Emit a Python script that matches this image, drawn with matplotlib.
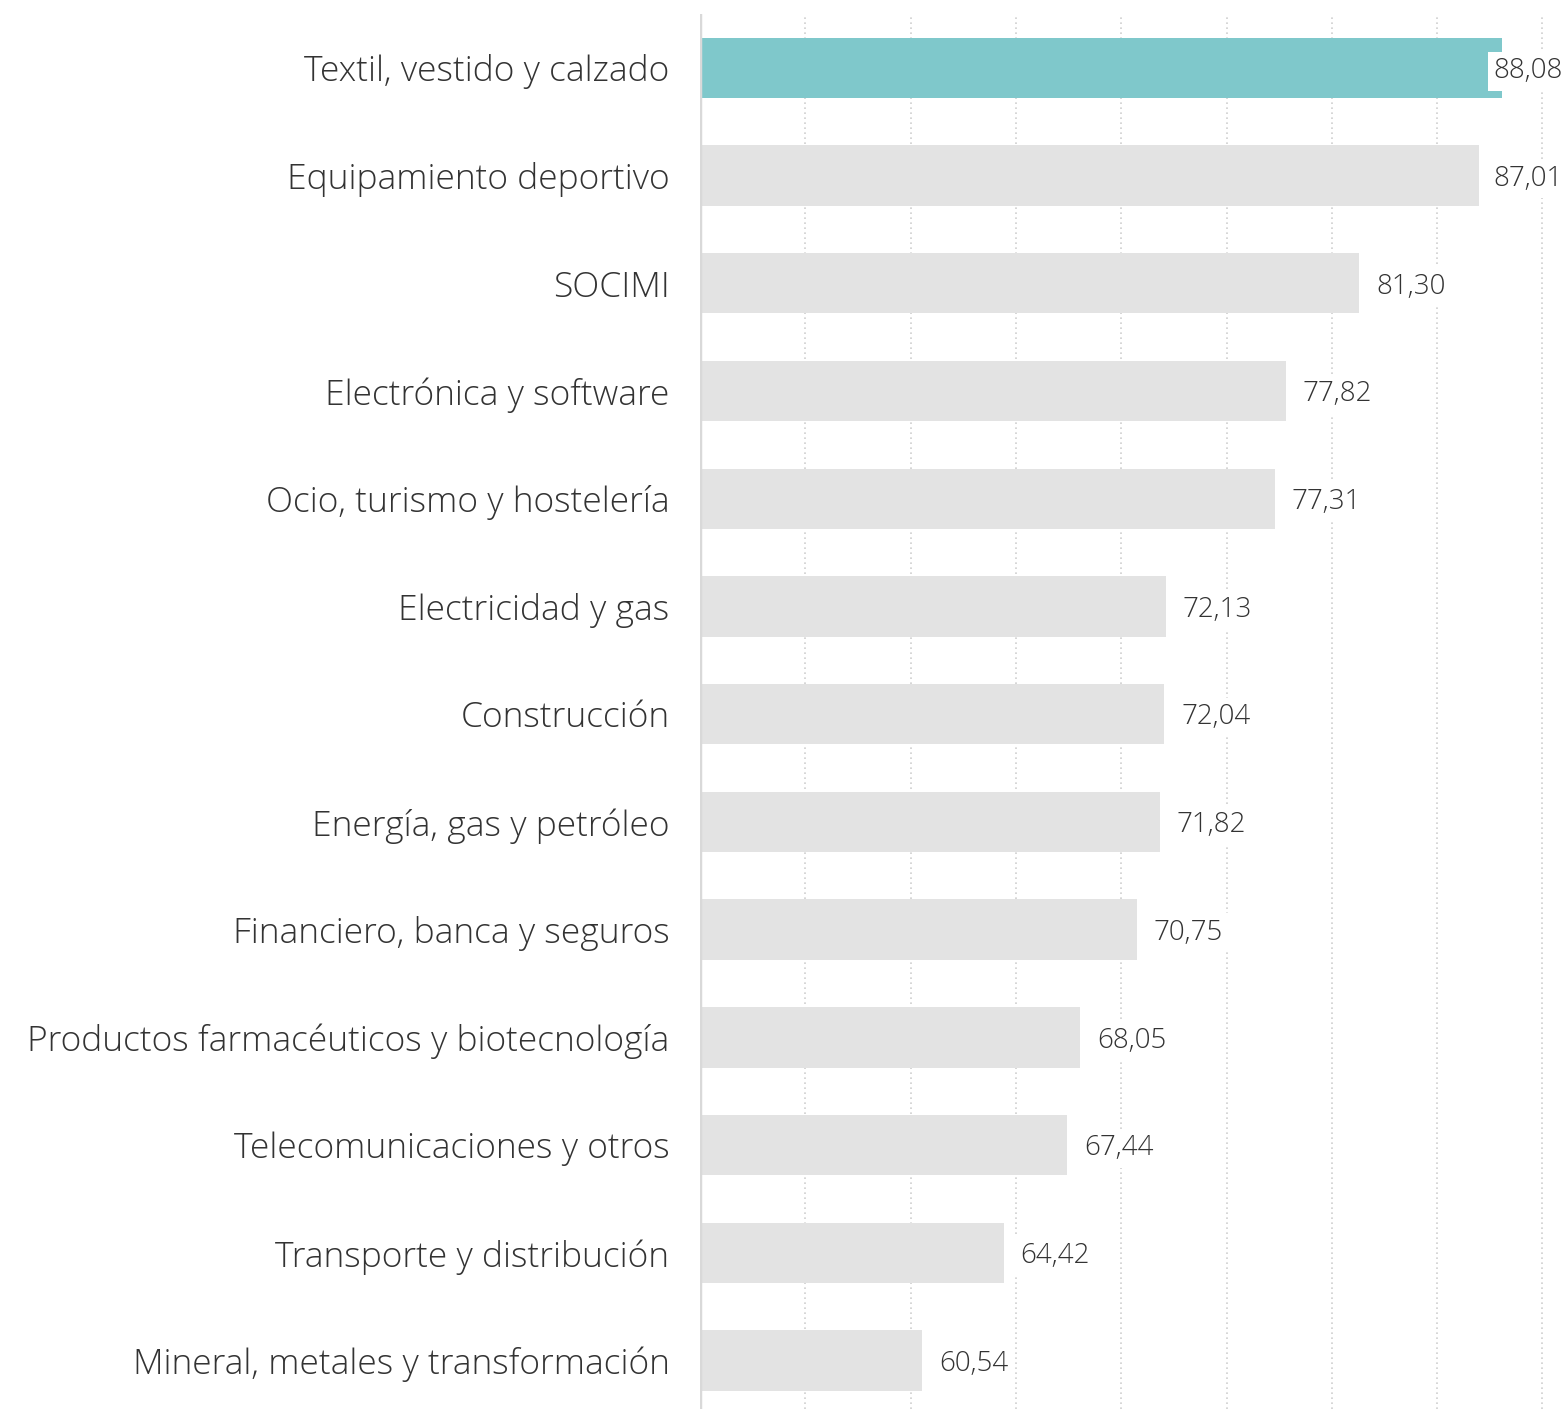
import matplotlib.pyplot as plt

# Datos
categorias = [
    "Textil, vestido y calzado",
    "Equipamiento deportivo",
    "SOCIMI",
    "Electrónica y software",
    "Ocio, turismo y hostelería",
    "Electricidad y gas",
    "Construcción",
    "Energía, gas y petróleo",
    "Financiero, banca y seguros",
    "Productos farmacéuticos y biotecnología",
    "Telecomunicaciones y otros",
    "Transporte y distribución",
    "Mineral, metales y transformación",
]
valores = [88.08, 87.01, 81.30, 77.82, 77.31, 72.13, 72.04, 71.82, 70.75, 68.05, 67.44, 64.42, 60.54]
etiquetas = ["88,08", "87,01", "81,30", "77,82", "77,31", "72,13", "72,04",
             "71,82", "70,75", "68,05", "67,44", "64,42", "60,54"]
destacado = "Textil, vestido y calzado"

plt.rcParams['font.family'] = ['Open Sans', 'DejaVu Sans']

fig = plt.figure(figsize=(15.67, 14.09), dpi=100)
ax = fig.add_axes([700 / 1567, 0, 867 / 1567, 1 - 14 / 1409])

x_min = 50
x_max = x_min + 867 / 21.06
posiciones = list(range(len(categorias)))
colores = ["#7FC8CB" if c == destacado else "#E3E3E3" for c in categorias]

ax.barh(posiciones, [v - x_min for v in valores], left=x_min, height=0.56,
        color=colores, zorder=2)

# Rejilla vertical punteada
for g in range(55, 95, 5):
    ax.axvline(g, color="#CFCFCF", linestyle=(0, (1, 2)), linewidth=1.2, zorder=1)
ax.axvline(x_min, color="#D9D9D9", linewidth=2.5, zorder=3)

# Etiquetas de valores
for p, v, t in zip(posiciones, valores, etiquetas):
    if v + 0.8 + 3.4 > x_max:
        ax.text(x_max - 0.2, p + 0.03, t, ha="right", va="center", fontsize=20,
                color="#333333", fontweight="light", zorder=4,
                bbox=dict(facecolor="white", edgecolor="none", pad=4))
    else:
        ax.text(v + 0.8, p + 0.03, t, ha="left", va="center", fontsize=20,
                color="#333333", fontweight="light", zorder=4,
                bbox=dict(facecolor="white", edgecolor="none", pad=4))

ax.set_xlim(x_min, x_max)
ax.set_ylim(12.45, -0.5)
ax.set_yticks(posiciones)
ax.set_yticklabels(categorias, fontsize=25.5, color="#333333", fontweight="light")
ax.tick_params(axis="y", length=0, pad=22)
ax.set_xticks([])
for s in ax.spines.values():
    s.set_visible(False)

plt.savefig("out.png", dpi=100)
